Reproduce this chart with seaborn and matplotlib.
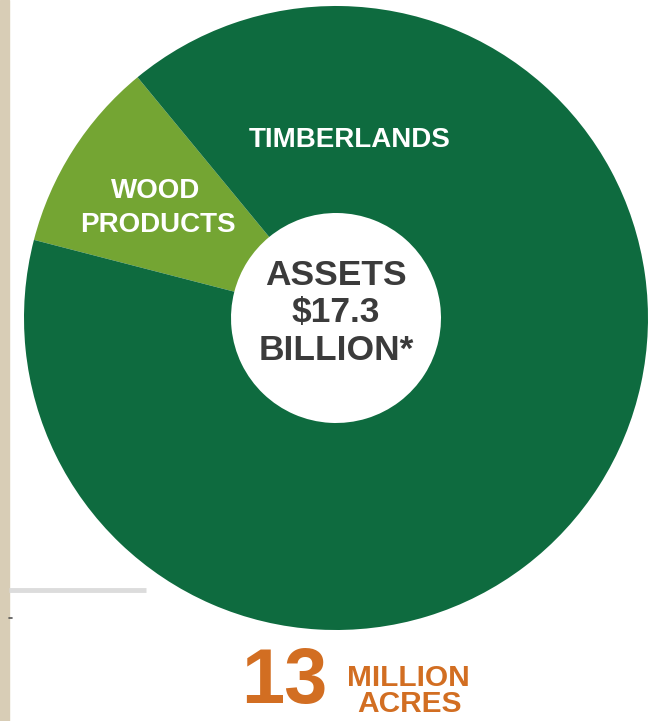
import matplotlib
matplotlib.use("Agg")
import matplotlib.pyplot as plt
import seaborn as sns

# ---- data ----
segments = ["WOOD\nPRODUCTS", "TIMBERLANDS"]
shares = [10.0, 90.0]          # percent of assets
center_lines = ["ASSETS", "$17.3", "BILLION*"]
acres_number = "13"
acres_unit = ["MILLION", "ACRES"]

# ---- style ----
sns.set_theme(style="white")
plt.rcParams["font.family"] = ["Liberation Sans", "DejaVu Sans"]

DARK = "#0E6B3F"
LIGHT = "#74A533"
ORANGE = "#D26E22"
GRAYTXT = "#3B3B3B"

W, H = 658, 721
fig = plt.figure(figsize=(W / 100, H / 100), dpi=100)
ax = fig.add_axes([0, 0, 1, 1])

cx, cy, R, r_in = 336, H - 318, 312, 105
ax.pie(shares, colors=[LIGHT, DARK], startangle=129.5, counterclock=True,
       radius=R, center=(cx, cy),
       wedgeprops=dict(width=R - r_in, edgecolor="none", linewidth=0))

ax.set_xlim(0, W)
ax.set_ylim(0, H)
ax.set_aspect("equal")
ax.axis("off")

# left beige strip and gray rule
ax.axvspan(0, 9, color="#D8CDB6", zorder=0)
ax.plot([9, 146], [H - 590, H - 590], color="#DCDCDC", lw=3.5, solid_capstyle="butt")
ax.plot([9, 12], [H - 618, H - 618], color="#555555", lw=1.2)

# segment labels
ax.text(350, H - 147, "TIMBERLANDS", color="white", fontsize=20,
        fontweight="bold", ha="center", va="baseline")
wood = segments[0].split("\n")
ax.text(156, H - 198, wood[0], color="white", fontsize=20,
        fontweight="bold", ha="center", va="baseline")
ax.text(158, H - 232, wood[1], color="white", fontsize=20,
        fontweight="bold", ha="center", va="baseline")

# center text
for line, base in zip(center_lines, [285, 322, 360]):
    ax.text(336, H - base, line, color=GRAYTXT, fontsize=25.5,
            fontweight="bold", ha="center", va="baseline")

# acres
ax.text(284, 2, acres_number, color=ORANGE, fontsize=56,
        fontweight="bold", ha="center", va="bottom")
ax.text(408, H - 686, acres_unit[0], color=ORANGE, fontsize=21.5,
        fontweight="bold", ha="center", va="baseline")
ax.text(409, H - 712, acres_unit[1], color=ORANGE, fontsize=21.5,
        fontweight="bold", ha="center", va="baseline")

fig.savefig("out.png", dpi=100, facecolor="white")
